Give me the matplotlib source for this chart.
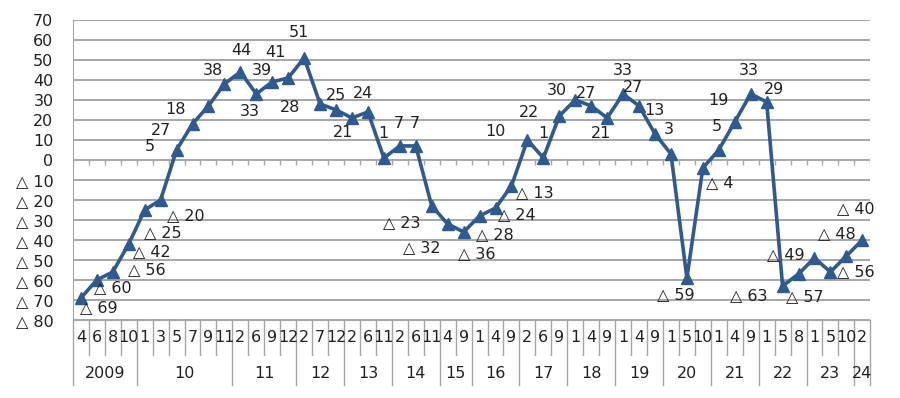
import numpy as np
import matplotlib
matplotlib.use("Agg")
from matplotlib import pyplot as plt

# survey DI values, negative values written with a triangle (Japanese style)
years = ["2009", "10", "11", "12", "13", "14", "15", "16", "17", "18",
         "19", "20", "21", "22", "23", "24"]
months = [
    [4, 6, 8, 10],
    [1, 3, 5, 7, 9, 11],
    [2, 6, 9, 12],
    [2, 7, 12],
    [2, 6, 11],
    [2, 6, 11],
    [4, 9],
    [1, 4, 9],
    [2, 6, 9],
    [1, 4, 9],
    [1, 4, 9],
    [1, 5, 10],
    [1, 4, 9],
    [1, 5, 8],
    [1, 5, 10],
    [2],
]
values = [-69, -60, -56, -42,
          -25, -20, 5, 18, 27, 38,
          44, 33, 39, 41,
          51, 28, 25,
          21, 24, 1,
          7, 7, -23,
          -32, -36,
          -28, -24, -13,
          10, 1, 22,
          30, 27, 21,
          33, 27, 13,
          3, -59, -4,
          5, 19, 33,
          29, -63, -57,
          -49, -56, -48,
          -40]

# label offsets in pixels (dx, dy up), as placed in the original
label_off = [(18, -10), (16, -8), (34, 2), (23, -8),
             (18, -23), (25, -16), (-27, 3), (-17, 14), (-47, -25), (-11, 13),
             (1, 21), (-6, -18), (-10, 11), (-13, 25),
             (-5, 25), (-30, -4), (0, 14),
             (-9, -15), (-5, 18), (-1, 24),
             (-1, 22), (-1, 22), (-30, -17),
             (-26, -24), (13, -22),
             (15, -19), (21, -7), (23, -7),
             (-32, 8), (0, 24), (-30, 3),
             (-18, 9), (-5, 12), (-6, -16),
             (0, 23), (-6, 18), (-1, 23),
             (-2, 24), (-11, -17), (17, -15),
             (-2, 23), (-16, 21), (-2, 23),
             (7, 12), (-34, -10), (6, -23),
             (-29, 3), (25, 0), (-10, 22),
             (-7, 31)]


def fmt(v):
    return str(v) if v >= 0 else "\u25b3 " + str(-v)


n = len(values)
x = np.arange(n)

plt.rcParams['font.family'] = ['DejaVu Sans']
fig = plt.figure(figsize=(9, 3.98), dpi=100)
ax = fig.add_axes([0.081, 0.196, 0.886, 0.754])

txt = "#222222"
grid = "#a6a6a6"

ax.set_xlim(-0.5, n - 0.5)
ax.set_ylim(-80, 70)
ax.set_yticks(range(-80, 71, 10))
ax.set_yticklabels([fmt(t) for t in range(-80, 71, 10)], fontsize=11.5, color=txt)
ax.tick_params(axis="y", length=0, pad=14)
ax.set_xticks([])
ax.grid(axis="y", color=grid, lw=1.4)
ax.set_axisbelow(True)
for s in ["top", "right"]:
    ax.spines[s].set_visible(False)
ax.spines["left"].set_color(grid)
ax.spines["bottom"].set_color(grid)

# small ticks on the zero line
bounds = np.arange(n + 1) - 0.5
ax.vlines(bounds, -2.5, 0, color=grid, lw=1)

ax.plot(x, values, color="#2f5a8f", lw=2.6, marker="^", ms=9, zorder=3)

for i, v in enumerate(values):
    dx, dy = label_off[i]
    ax.annotate(fmt(v), (x[i], v), xytext=(dx, dy), textcoords="offset pixels",
                ha="center", va="center", fontsize=11.5, color=txt)

# category table below the plot
tr = ax.get_xaxis_transform()
row1 = -0.117
row2 = -0.217
starts = np.cumsum([0] + [len(m) for m in months])
year_bounds = set(starts)
for k, b in enumerate(bounds):
    y0 = row2 if k in year_bounds else row1
    ax.plot([b, b], [0, y0], color=grid, lw=1, transform=tr, clip_on=False)

k = 0
for g, ms in enumerate(months):
    for m in ms:
        ax.text(k, -0.06, str(m), transform=tr, ha="center", va="center",
                fontsize=11.5, color=txt)
        k += 1
    mid = (starts[g] + starts[g + 1] - 1) / 2
    ax.text(mid, -0.177, years[g], transform=tr, ha="center", va="center",
            fontsize=11.5, color=txt)

fig.savefig("out.png", dpi=100)
